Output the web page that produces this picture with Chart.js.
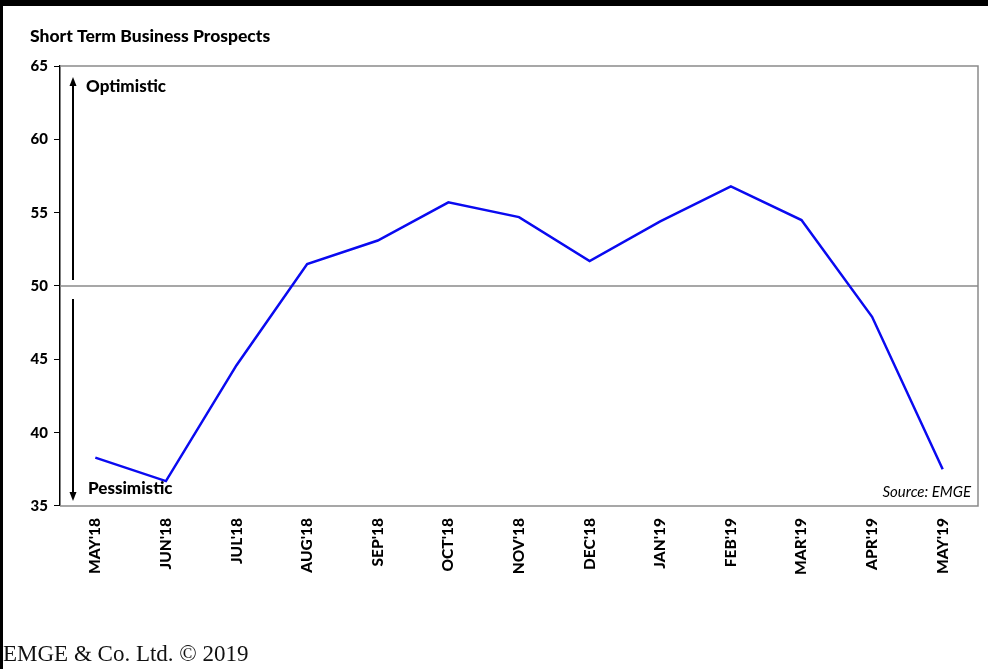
<!DOCTYPE html>
<html>
<head>
<meta charset="utf-8">
<script src="https://cdn.jsdelivr.net/npm/chart.js@4/dist/chart.umd.min.js"></script>
<style>
  html, body { margin: 0; padding: 0; background: #fff; }
  #wrap { position: relative; width: 988px; height: 669px; overflow: hidden; }
  #topbar { position: absolute; left: 0; top: 0; width: 988px; height: 6px; background: #000; }
  #leftbar { position: absolute; left: 0; top: 0; width: 3px; height: 669px; background: #000; }
  #footer { position: absolute; left: 3px; top: 641px; font-family: "Liberation Serif", serif; font-size: 23px; color: #111; }
  canvas { position: absolute; left: 0; top: 0; }
</style>
</head>
<body>
<div id="wrap">
  <canvas id="c" width="988" height="669"></canvas>
  <div id="topbar"></div>
  <div id="leftbar"></div>
  <div id="footer">EMGE &amp; Co. Ltd. © 2019</div>
</div>
<script>
const months = ["MAY'18","JUN'18","JUL'18","AUG'18","SEP'18","OCT'18","NOV'18","DEC'18","JAN'19","FEB'19","MAR'19","APR'19","MAY'19"];
const prospects = [38.3, 36.7, 44.6, 51.5, 53.1, 55.7, 54.7, 51.7, 54.4, 56.8, 54.5, 47.9, 37.5];
const yTicks = [35, 40, 45, 50, 55, 60, 65];
const neutralLevel = 50;

const FONT = "Lato, 'Open Sans', sans-serif";

// Frame, neutral line, sentiment arrows and captions
const decorations = {
  id: 'decorations',
  beforeDatasetsDraw(chart) {
    const { ctx, chartArea: a, scales: { y } } = chart;
    ctx.save();
    ctx.strokeStyle = '#8a8a8a';
    ctx.lineWidth = 1.5;
    ctx.beginPath();
    ctx.moveTo(a.left, a.top); ctx.lineTo(a.right, a.top);
    ctx.lineTo(a.right, a.bottom); ctx.lineTo(a.left, a.bottom);
    const y50 = y.getPixelForValue(neutralLevel);
    ctx.moveTo(a.left, y50); ctx.lineTo(a.right, y50);
    ctx.stroke();
    ctx.restore();
  },
  afterDraw(chart) {
    const { ctx, chartArea: a, scales: { y } } = chart;
    const ax = a.left + 13;
    const y50 = y.getPixelForValue(neutralLevel);
    ctx.save();
    ctx.strokeStyle = '#000';
    ctx.fillStyle = '#000';
    ctx.lineWidth = 2;
    // up arrow
    ctx.beginPath();
    ctx.moveTo(ax, y50 - 6); ctx.lineTo(ax, a.top + 16);
    ctx.stroke();
    ctx.beginPath();
    ctx.moveTo(ax, a.top + 11); ctx.lineTo(ax - 3.5, a.top + 20); ctx.lineTo(ax + 3.5, a.top + 20);
    ctx.closePath(); ctx.fill();
    // down arrow
    ctx.beginPath();
    ctx.moveTo(ax, y50 + 13); ctx.lineTo(ax, a.bottom - 12);
    ctx.stroke();
    ctx.beginPath();
    ctx.moveTo(ax, a.bottom - 5); ctx.lineTo(ax - 3.5, a.bottom - 14); ctx.lineTo(ax + 3.5, a.bottom - 14);
    ctx.closePath(); ctx.fill();

    ctx.font = '900 17px ' + FONT;
    ctx.textBaseline = 'middle';
    ctx.textAlign = 'left';
    ctx.fillText('Optimistic', a.left + 26, a.top + 21);
    ctx.fillText('Pessimistic', a.left + 28, a.bottom - 17);

    ctx.font = 'italic 15px ' + FONT;
    ctx.textAlign = 'right';
    ctx.fillText('Source: EMGE', a.right - 7, a.bottom - 14);

    ctx.font = '900 17.5px ' + FONT;
    ctx.textAlign = 'left';
    ctx.fillText('Short Term Business Prospects', 30, 36);
    ctx.restore();
  }
};

new Chart(document.getElementById('c'), {
  type: 'line',
  data: {
    labels: months,
    datasets: [{
      data: prospects,
      borderColor: '#0a0af0',
      borderWidth: 2.5,
      pointRadius: 0,
      tension: 0,
      fill: false
    }]
  },
  options: {
    responsive: false,
    animation: false,
    layout: { padding: { left: 10, top: 66, right: 10, bottom: 82 } },
    plugins: { legend: { display: false }, tooltip: { enabled: false } },
    scales: {
      x: {
        offset: true,
        grid: { display: false, drawTicks: false },
        border: { display: false },
        ticks: {
          minRotation: 90, maxRotation: 90,
          padding: 12,
          color: '#000',
          font: { family: FONT, size: 15.5, weight: '900' }
        }
      },
      y: {
        min: 35, max: 65,
        afterBuildTicks(scale) { scale.ticks = yTicks.map(v => ({ value: v })); },
        afterFit(scale) { scale.width = 50; },
        grid: { drawOnChartArea: false, tickLength: 6, tickColor: '#000' },
        border: { display: true, color: '#000', width: 1.5 },
        ticks: {
          padding: 6,
          color: '#000',
          font: { family: FONT, size: 15, weight: '900' }
        }
      }
    }
  },
  plugins: [decorations]
});
</script>
</body>
</html>
